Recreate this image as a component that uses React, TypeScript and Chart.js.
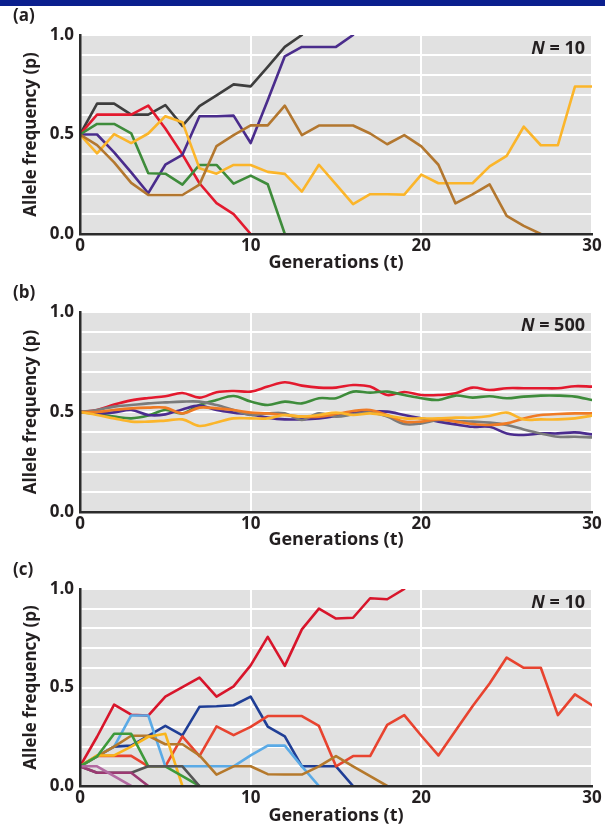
import React, { useEffect, useRef } from "react";
import { Chart, registerables } from "chart.js";

Chart.register(...registerables);

// ---------------- data ----------------
const generations = [0, 1, 2, 3, 4, 5, 6, 7, 8, 9, 10, 11, 12, 13, 14, 15, 16, 17, 18, 19, 20, 21, 22, 23, 24, 25, 26, 27, 28, 29, 30];
const xTickValues = [0, 10, 20, 30];
const yTickValues = [0, 0.5, 1];
const yTickLabels = ["0.0", "0.5", "1.0"];
const panelLabels = ["(a)", "(b)", "(c)"];
const popLabels = ["10", "500", "10"];
const xTitle = "Generations (t)";
const yTitle = "Allele frequency (p)";

// Panel (a): N = 10
const aBlack = [0.5, 0.655, 0.655, 0.6, 0.6, 0.648, 0.543, 0.643, 0.697, 0.752, 0.742, 0.84, 0.94, 1.0];
const aRed = [0.5, 0.6, 0.6, 0.6, 0.645, 0.53, 0.4, 0.255, 0.155, 0.1, 0.0];
const aPurple = [0.5, 0.5, 0.41, 0.31, 0.205, 0.348, 0.398, 0.592, 0.592, 0.595, 0.457, 0.672, 0.893, 0.94, 0.94, 0.94, 1.0];
const aGreen = [0.5, 0.553, 0.553, 0.506, 0.305, 0.303, 0.248, 0.347, 0.347, 0.253, 0.293, 0.25, 0.0];
const aYellow = [0.5, 0.405, 0.502, 0.457, 0.505, 0.592, 0.562, 0.33, 0.303, 0.347, 0.347, 0.312, 0.302, 0.213, 0.348, 0.249, 0.15, 0.2, 0.2, 0.198, 0.298, 0.255, 0.255, 0.255, 0.34, 0.393, 0.539, 0.446, 0.446, 0.741, 0.741];
const aBrown = [0.5, 0.447, 0.36, 0.257, 0.196, 0.196, 0.196, 0.248, 0.442, 0.497, 0.546, 0.546, 0.645, 0.497, 0.545, 0.545, 0.545, 0.505, 0.451, 0.497, 0.44, 0.348, 0.154, 0.199, 0.249, 0.091, 0.041, 0.0];

// Panel (b): N = 500
const bRed = [0.5, 0.51, 0.537, 0.558, 0.57, 0.579, 0.595, 0.572, 0.599, 0.605, 0.602, 0.627, 0.649, 0.632, 0.622, 0.622, 0.635, 0.627, 0.585, 0.6, 0.585, 0.585, 0.594, 0.622, 0.61, 0.619, 0.619, 0.619, 0.619, 0.629, 0.627];
const bGreen = [0.5, 0.49, 0.477, 0.468, 0.482, 0.51, 0.493, 0.535, 0.56, 0.58, 0.552, 0.535, 0.552, 0.543, 0.569, 0.569, 0.602, 0.597, 0.602, 0.585, 0.569, 0.56, 0.582, 0.572, 0.579, 0.569, 0.577, 0.582, 0.582, 0.577, 0.56];
const bOrange = [0.5, 0.5, 0.51, 0.518, 0.522, 0.522, 0.493, 0.522, 0.518, 0.51, 0.497, 0.493, 0.485, 0.477, 0.477, 0.49, 0.505, 0.51, 0.485, 0.452, 0.452, 0.463, 0.452, 0.44, 0.435, 0.443, 0.468, 0.485, 0.49, 0.493, 0.493];
const bYellow = [0.5, 0.485, 0.468, 0.452, 0.452, 0.457, 0.463, 0.43, 0.448, 0.468, 0.468, 0.468, 0.485, 0.477, 0.485, 0.497, 0.485, 0.493, 0.482, 0.468, 0.468, 0.468, 0.472, 0.472, 0.48, 0.497, 0.463, 0.463, 0.463, 0.468, 0.482];
const bPurple = [0.5, 0.493, 0.498, 0.51, 0.485, 0.488, 0.513, 0.532, 0.51, 0.497, 0.488, 0.472, 0.463, 0.463, 0.468, 0.48, 0.497, 0.502, 0.502, 0.485, 0.468, 0.452, 0.438, 0.426, 0.426, 0.393, 0.385, 0.393, 0.393, 0.398, 0.388];
const bGray = [0.5, 0.51, 0.527, 0.535, 0.543, 0.548, 0.552, 0.552, 0.535, 0.51, 0.485, 0.493, 0.493, 0.46, 0.493, 0.477, 0.488, 0.498, 0.477, 0.44, 0.443, 0.46, 0.455, 0.452, 0.447, 0.435, 0.413, 0.393, 0.376, 0.376, 0.373];

// Panel (c): N = 10, starting at p = 0.1
const cRed = [0.1, 0.25, 0.413, 0.362, 0.357, 0.454, 0.502, 0.55, 0.454, 0.506, 0.612, 0.757, 0.61, 0.795, 0.9, 0.85, 0.854, 0.953, 0.948, 1.0];
const cOrangeRed = [0.1, 0.153, 0.153, 0.153, 0.1, 0.1, 0.252, 0.152, 0.303, 0.258, 0.3, 0.355, 0.355, 0.355, 0.305, 0.1, 0.152, 0.152, 0.31, 0.36, 0.255, 0.155, 0.28, 0.405, 0.52, 0.652, 0.6, 0.6, 0.36, 0.465, 0.41];
const cBlue = [0.1, 0.15, 0.2, 0.205, 0.255, 0.305, 0.257, 0.402, 0.405, 0.41, 0.454, 0.302, 0.252, 0.1, 0.1, 0.1, 0.0];
const cLightBlue = [0.1, 0.15, 0.2, 0.358, 0.358, 0.1, 0.1, 0.1, 0.1, 0.1, 0.155, 0.205, 0.205, 0.1, 0.0];
const cGreen = [0.1, 0.15, 0.265, 0.265, 0.1, 0.1, 0.05, 0.0];
const cYellow = [0.1, 0.155, 0.155, 0.2, 0.25, 0.265, 0.0];
const cBrown = [0.1, 0.15, 0.2, 0.255, 0.255, 0.212, 0.212, 0.155, 0.058, 0.1, 0.1, 0.06, 0.058, 0.058, 0.1, 0.152, 0.1, 0.05, 0.0];
const cGray = [0.1, 0.067, 0.067, 0.067, 0.1, 0.1, 0.1, 0.0];
const cMauve = [0.1, 0.1, 0.05, 0.0];
const cMagenta = [0.1, 0.067, 0.067, 0.067, 0.0];

type Series = { values: number[]; color: string };

const panelA: Series[] = [
  { values: aBrown, color: "#b3772f" },
  { values: aYellow, color: "#fbb52a" },
  { values: aGreen, color: "#3e8c3b" },
  { values: aPurple, color: "#4a2c8c" },
  { values: aRed, color: "#e3192e" },
  { values: aBlack, color: "#3d3d3d" },
];
const panelB: Series[] = [
  { values: bYellow, color: "#fbb52a" },
  { values: bOrange, color: "#ef7b25" },
  { values: bGray, color: "#7b7b7b" },
  { values: bPurple, color: "#4b2c8f" },
  { values: bGreen, color: "#3e8c3b" },
  { values: bRed, color: "#e3192e" },
];
const panelC: Series[] = [
  { values: cMauve, color: "#b36aa2" },
  { values: cMagenta, color: "#9b3a72" },
  { values: cGray, color: "#555555" },
  { values: cGreen, color: "#3e9a3b" },
  { values: cYellow, color: "#f9b51c" },
  { values: cBrown, color: "#b5792c" },
  { values: cLightBlue, color: "#5aaae6" },
  { values: cOrangeRed, color: "#e8432f" },
  { values: cBlue, color: "#1f3e96" },
  { values: cRed, color: "#d8152b" },
];

const FONT = "'Open Sans', 'DejaVu Sans', sans-serif";
const TEXT = "#231f20";

type PanelProps = {
  idx: number;
  series: Series[];
  top: number;
  height: number;
  plotHeight: number;
  smooth: boolean;
};

function Panel({ idx, series, top, height, plotHeight, smooth }: PanelProps) {
  const ref = useRef<HTMLCanvasElement | null>(null);
  useEffect(() => {
    const canvas = ref.current;
    if (!canvas) return;
    const padTop = 35;
    const decor = {
      id: "decor",
      beforeDraw(chart: any) {
        const { ctx, chartArea } = chart;
        ctx.save();
        ctx.fillStyle = "#e1e1e1";
        ctx.fillRect(chartArea.left, chartArea.top, chartArea.right - chartArea.left, chartArea.bottom - chartArea.top);
        ctx.restore();
      },
      afterDraw(chart: any) {
        const { ctx, chartArea } = chart;
        ctx.save();
        ctx.fillStyle = TEXT;
        ctx.textBaseline = "middle";
        ctx.textAlign = "left";
        ctx.font = `bold 17px ${FONT}`;
        ctx.fillText(panelLabels[idx], 13, 16);
        const rest = " = " + popLabels[idx];
        ctx.font = `bold 18px ${FONT}`;
        const wRest = ctx.measureText(rest).width;
        ctx.font = `italic bold 18px ${FONT}`;
        const wN = ctx.measureText("N").width;
        const right = chartArea.right - 7;
        const y = chartArea.top + 14;
        ctx.fillText("N", right - wRest - wN, y);
        ctx.font = `bold 18px ${FONT}`;
        ctx.fillText(rest, right - wRest, y);
        ctx.restore();
      },
    };
    const chart = new Chart(canvas, {
      type: "line",
      data: {
        datasets: series.map((s) => ({
          data: s.values.map((v, i) => ({ x: generations[i], y: v })),
          borderColor: s.color,
          backgroundColor: s.color,
          borderWidth: 2.6,
          pointRadius: 0,
          fill: false,
          tension: smooth ? 0.35 : 0,
          borderJoinStyle: "round" as const,
          borderCapStyle: "round" as const,
        })),
      },
      options: {
        responsive: false,
        animation: false,
        devicePixelRatio: 1,
        layout: { padding: { left: 0, right: 13, top: padTop, bottom: 0 } },
        plugins: { legend: { display: false }, tooltip: { enabled: false }, title: { display: false } },
        scales: {
          x: {
            type: "linear",
            min: 0,
            max: 30,
            afterFit(scale: any) {
              scale.height = height - padTop - plotHeight;
            },
            afterBuildTicks(scale: any) {
              scale.ticks = xTickValues.map((v) => ({ value: v }));
            },
            ticks: {
              autoSkip: false,
              maxRotation: 0,
              padding: 2,
              color: TEXT,
              font: { family: FONT, size: 17, weight: "bold" },
              callback: (v: any) => String(v),
            },
            grid: { color: "#ffffff", lineWidth: 2, drawTicks: false },
            border: { display: true, color: "#2b2b2b", width: 2.5, z: 1 },
            title: {
              display: true,
              text: xTitle,
              color: TEXT,
              font: { family: FONT, size: 18, weight: "bold" },
              padding: { top: 0, bottom: 1 },
            },
          },
          y: {
            type: "linear",
            min: 0,
            max: 1,
            afterFit(scale: any) {
              scale.width = 80;
            },
            ticks: {
              stepSize: 0.1,
              autoSkip: false,
              padding: 6,
              color: TEXT,
              font: { family: FONT, size: 17, weight: "bold" },
              callback: (v: any) => {
                const i = yTickValues.findIndex((t) => Math.abs(t - Number(v)) < 1e-6);
                return i >= 0 ? yTickLabels[i] : "";
              },
            },
            grid: { color: "#ffffff", lineWidth: 2, drawTicks: false },
            border: { display: true, color: "#2b2b2b", width: 2.5, z: 1 },
            title: {
              display: true,
              text: yTitle,
              color: TEXT,
              font: { family: FONT, size: 17, weight: "bold" },
              padding: { top: 21, bottom: 0 },
            },
          },
        },
      },
      plugins: [decor],
    } as any);
    return () => chart.destroy();
  }, [idx, series, top, height, plotHeight, smooth]);
  return (
    <canvas
      ref={ref}
      width={605}
      height={height}
      style={{ position: "absolute", left: 0, top, width: 605, height }}
    />
  );
}

export default function App() {
  return (
    <div
      style={{
        position: "fixed",
        left: 0,
        top: 0,
        width: 605,
        height: 828,
        background: "#ffffff",
        overflow: "hidden",
      }}
    >
      <Panel idx={0} series={panelA} top={0} height={275} plotHeight={199} smooth={false} />
      <Panel idx={1} series={panelB} top={277} height={275} plotHeight={200} smooth={true} />
      <Panel idx={2} series={panelC} top={554} height={274} plotHeight={197} smooth={false} />
      <div style={{ position: "absolute", left: 0, top: 0, width: 605, height: 6, background: "#0b1f8e" }} />
    </div>
  );
}
